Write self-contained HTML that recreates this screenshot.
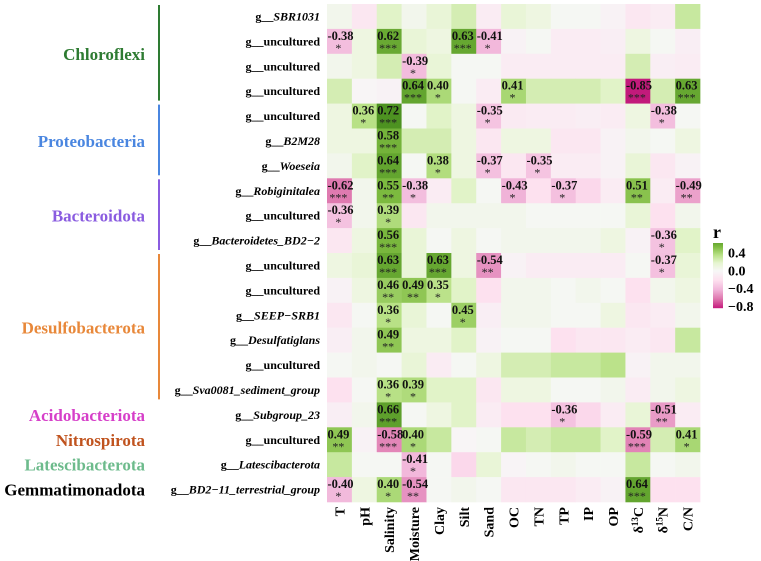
<!DOCTYPE html>
<html><head><meta charset="utf-8"><style>
body{margin:0;background:#fff;}
svg{display:block;font-family:"Liberation Serif",serif;}
</style></head><body>
<svg id="chart" width="761" height="561" viewBox="0 0 761 561">
<g id="cells"></g>
<g id="celltext"></g>
<g id="rowlabels"></g>
<g id="collabels"></g>
<g id="phyla"></g>
<g id="legend"></g>
</svg>
<script>
const columns = ["T","pH","Salinity","Moisture","Clay","Silt","Sand","OC","TN","TP","IP","OP","δ13C","δ15N","C/N"];
const genera = ["SBR1031","uncultured","uncultured","uncultured","uncultured","B2M28","Woeseia","Robiginitalea","uncultured","Bacteroidetes_BD2−2","uncultured","uncultured","SEEP−SRB1","Desulfatiglans","uncultured","Sva0081_sediment_group","Subgroup_23","uncultured","Latescibacterota","BD2−11_terrestrial_group"];
const italicRows = [1,0,0,0,0,1,1,1,0,1,0,0,1,1,0,1,1,0,1,1];
const rValues = [
[0.05,-0.15,0.2,0.05,0.15,0.25,-0.1,0.15,0.1,0.02,0.02,-0.05,-0.15,-0.1,0.3],
[-0.38,0.1,0.62,0.15,0.1,0.63,-0.41,-0.05,0.02,-0.1,-0.1,-0.08,0.1,0.02,-0.08],
[0.05,0.1,0.25,-0.39,0.15,0.02,0.02,-0.1,-0.1,-0.1,-0.1,-0.1,0.25,-0.08,-0.1],
[0.25,-0.02,-0.05,0.64,0.40,0.02,-0.1,0.41,0.25,0.25,0.25,0.2,-0.85,0.25,0.63],
[0.1,0.36,0.72,0.02,0.2,0.1,-0.35,-0.12,-0.1,-0.1,-0.08,-0.1,0.1,-0.38,0.02],
[0.1,0.1,0.58,0.25,0.25,0.1,-0.15,0.1,0.1,-0.15,-0.15,-0.05,0.05,0.02,0.1],
[0.05,0.2,0.64,0.02,0.38,0.1,-0.37,-0.15,-0.35,-0.1,-0.1,-0.05,0.15,-0.15,-0.05],
[-0.62,0.05,0.55,-0.38,-0.1,0.2,0.02,-0.43,-0.2,-0.37,-0.25,-0.1,0.51,-0.1,-0.49],
[-0.36,0.05,0.39,-0.15,0.05,0.05,0.05,0.05,0.02,0.02,0.02,0.02,0.15,-0.2,0.05],
[-0.15,0.1,0.56,0.15,0.02,0.1,0.02,0.05,0.05,0.05,0.05,0.1,-0.05,-0.36,0.2],
[0.1,0.15,0.63,0.15,0.63,0.1,-0.54,-0.05,-0.1,-0.1,-0.1,-0.1,0.02,-0.37,0.15],
[-0.05,0.1,0.46,0.49,0.35,0.2,-0.2,0.05,0.05,0.02,0.05,0.02,-0.2,0.05,0.1],
[-0.15,0.02,0.36,0.15,0.02,0.45,-0.08,0.05,0.05,0.02,0.02,0.1,-0.15,-0.1,0.05],
[-0.08,0.05,0.49,0.1,0.1,0.2,-0.05,0.02,0.02,-0.2,-0.15,-0.15,-0.1,-0.15,0.3],
[0.02,0.05,0.02,0.15,-0.1,0.02,0.1,0.25,0.25,0.3,0.3,0.35,-0.05,0.05,0.05],
[-0.2,0.02,0.36,0.39,0.2,0.2,-0.15,0.1,0.1,0.02,0.02,0.05,-0.1,0.05,0.1],
[-0.08,0.05,0.66,0.02,0.1,0.2,-0.1,-0.2,-0.2,-0.36,-0.25,-0.1,0.15,-0.51,-0.1],
[0.49,-0.05,-0.58,0.40,0.3,-0.02,0.02,0.3,0.25,0.3,0.3,0.2,-0.59,0.25,0.41],
[0.3,0.02,0.02,-0.41,0.02,-0.25,0.15,-0.03,0.02,0.05,0.02,0.02,0.3,0.02,0.05],
[-0.40,0.1,0.40,-0.54,0.02,0.05,0.02,-0.15,-0.15,-0.15,-0.1,-0.05,0.64,-0.2,-0.2]
];
const stars = [
["","","","","","","","","","","","","","",""],
["*","","***","","","***","*","","","","","","","",""],
["","","","*","","","","","","","","","","",""],
["","","","***","*","","","*","","","","","***","","***"],
["","*","***","","","","*","","","","","","","*",""],
["","","***","","","","","","","","","","","",""],
["","","***","","*","","*","","*","","","","","",""],
["***","","**","*","","","","*","","*","","","**","","**"],
["*","","*","","","","","","","","","","","",""],
["","","***","","","","","","","","","","","*",""],
["","","***","","***","","**","","","","","","","*",""],
["","","**","**","*","","","","","","","","","",""],
["","","*","","","*","","","","","","","","",""],
["","","**","","","","","","","","","","","",""],
["","","","","","","","","","","","","","",""],
["","","*","*","","","","","","","","","","",""],
["","","***","","","","","","","*","","","","**",""],
["**","","***","*","","","","","","","","","***","","*"],
["","","","*","","","","","","","","","","",""],
["*","","*","**","","","","","","","","","***","",""]
];
const phyla = ["Chloroflexi","Proteobacteria","Bacteroidota","Desulfobacterota","Acidobacteriota","Nitrospirota","Latescibacterota","Gemmatimonadota"];
const phylaStart = [0,4,7,10,16,17,18,19];
const phylaCount = [4,3,3,6,1,1,1,1];
const phylaColors = ["#2e7b32","#4a86e0","#8a5ce0","#e8883a","#d63fc9","#c0531e","#6dbb8c","#000000"];
const legendTicks = [0.4,0.0,-0.4,-0.8];

const NS="http://www.w3.org/2000/svg";
const X0=327, Y0=4, CW=24.87, RH=24.9;
const xPos=c=>X0+c*CW, yPos=r=>Y0+r*RH;
const stops=[[-1,[142,1,82]],[-0.8,[197,27,125]],[-0.6,[222,119,174]],[-0.4,[241,182,218]],[-0.2,[253,224,239]],[0,[247,247,247]],[0.2,[230,245,208]],[0.4,[184,225,134]],[0.6,[127,188,65]],[0.8,[77,146,33]],[1,[39,100,25]]];
function color(v){let t=Math.max(-1,Math.min(1,v<0?v/1.05:v/0.9));for(let i=0;i<stops.length-1;i++){const a=stops[i],b=stops[i+1];if(t<=b[0]){const f=(t-a[0])/(b[0]-a[0]);const c=a[1].map((x,k)=>Math.round(x+(b[1][k]-x)*f));return `rgb(${c})`;}}return "rgb(39,100,25)";}
function mk(tag,attrs,parent){const e=document.createElementNS(NS,tag);for(const k in attrs)e.setAttribute(k,attrs[k]);parent.appendChild(e);return e;}
const gc=document.getElementById('cells');
const gt=document.getElementById('celltext');
rValues.forEach((row,r)=>row.forEach((v,c)=>{
  const rect=mk('rect',{x:xPos(c),y:yPos(r),width:CW+0.3,height:RH+0.3,fill:color(v)},gc);
  
  
  if(stars[r][c]){
    const t=mk('text',{x:xPos(c)+0.5,y:yPos(r)+11,'font-size':12.5,'font-weight':'bold',fill:'#111'},gt);
    t.textContent=v.toFixed(2);
    
    
    const s=mk('text',{x:xPos(c)+CW/2-1,y:yPos(r)+23,'font-size':12,'text-anchor':'middle',fill:'#222'},gt);
    s.textContent=stars[r][c];
    
    
  }
}));
const gr=document.getElementById('rowlabels');
genera.forEach((g,r)=>{
  const t=mk('text',{x:320,y:yPos(r)+RH/2+4,'font-size':12,'font-weight':'bold','text-anchor':'end'},gr);
  
  
  const a=mk('tspan',{},t);a.textContent='g__';
  const b=mk('tspan',{'font-style':italicRows[r]?'italic':'normal'},t);b.textContent=g;
});
const gcl=document.getElementById('collabels');
columns.forEach((c,i)=>{
  const x=xPos(i)+CW/2+5, y=507;
  const t=mk('text',{x:x,y:y,'font-size':14,'font-weight':'bold','text-anchor':'end',transform:`rotate(-90 ${x} ${y})`},gcl);
  
  
  if(c[0]==='δ'){const a=mk('tspan',{},t);a.textContent='δ';const b=mk('tspan',{'font-size':9,dy:-5},t);b.textContent=c.slice(1,3);const d=mk('tspan',{dy:5},t);d.textContent=c.slice(3);}
  else t.textContent=c;
});
const gp=document.getElementById('phyla');
phyla.forEach((p,i)=>{
  const y1=yPos(phylaStart[i]), y2=yPos(phylaStart[i]+phylaCount[i]);
  const t=mk('text',{x:145,y:(y1+y2)/2+6,'font-size':17,'font-weight':'bold','text-anchor':'end',fill:phylaColors[i]},gp);
  t.textContent=p;
  
  
  if(phylaCount[i]>1){
    const l=mk('line',{x1:159,x2:159,y1:y1+1,y2:y2-3,stroke:phylaColors[i],'stroke-width':2},gp);
    
    
  }
});
const gl=document.getElementById('legend');
const LB_TOP=243, LB_BOT=308, vTop=0.62, vBot=-0.85;
const ly=v=>LB_TOP+(vTop-v)/(vTop-vBot)*(LB_BOT-LB_TOP);
for(let y=LB_TOP;y<LB_BOT;y++){const v=vTop-(y-LB_TOP)/(LB_BOT-LB_TOP)*(vTop-vBot);mk('rect',{x:713,y:y,width:10,height:1.2,fill:color(v)},gl);}
const rt=mk('text',{x:713,y:238,'font-size':18,'font-weight':'bold'},gl);rt.textContent='r';
legendTicks.forEach(v=>{
  const t=mk('text',{x:728,y:ly(v)+5,'font-size':14,'font-weight':'bold'},gl);
  t.textContent=(v<0?'−':' ')+Math.abs(v).toFixed(1);
  
  
});
</script>
</body></html>
